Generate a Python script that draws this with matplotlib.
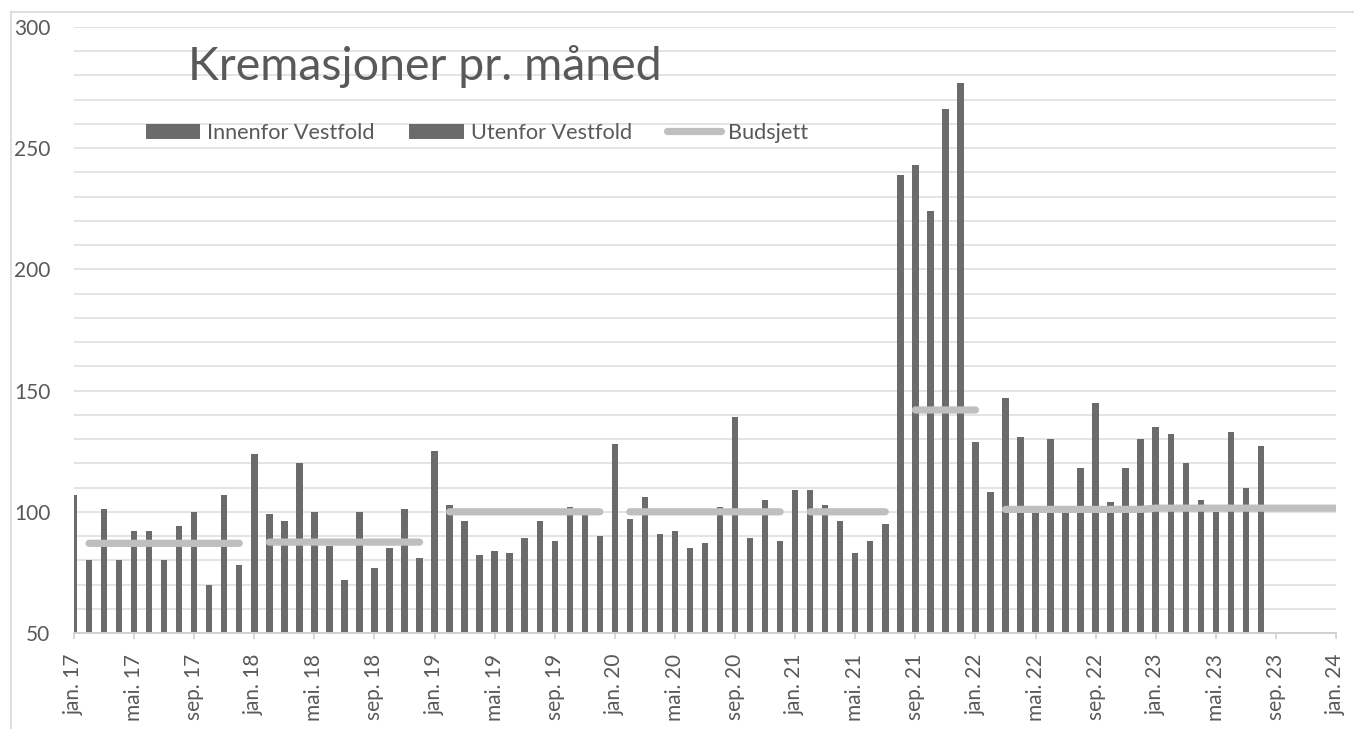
import matplotlib
matplotlib.use("Agg")
import matplotlib.pyplot as plt
from matplotlib.lines import Line2D
from matplotlib.patches import Patch
import numpy as np

plt.rcParams['font.family'] = ['Lato', 'DejaVu Sans']

# ---- data -------------------------------------------------------------
# monthly totals, jan. 17 .. aug. 23
cremations = [
    107, 80, 101, 80, 92, 92, 80, 94, 100, 70, 107, 78,      # 2017
    124, 99, 96, 120, 100, 86, 72, 100, 77, 85, 101, 81,     # 2018
    125, 103, 96, 82, 84, 83, 89, 96, 88, 102, 100, 90,      # 2019
    128, 97, 106, 91, 92, 85, 87, 102, 139, 89, 105, 88,     # 2020
    109, 109, 103, 96, 83, 88, 95, 239, 243, 224, 266, 277,  # 2021
    129, 108, 147, 131, 100, 130, 101, 118, 145, 104, 118, 130,  # 2022
    135, 132, 120, 105, 100, 133, 110, 127,                  # 2023
]
N = None
# budget per month, jan. 17 .. jan. 24 (None = no value)
budget = [
    N, 87, 87, 87, 87, 87, 87, 87, 87, 87, 87, 87,                      # 2017
    N, 87.5, 87.5, 87.5, 87.5, 87.5, 87.5, 87.5, 87.5, 87.5, 87.5, 87.5,  # 2018
    N, 100, 100, 100, 100, 100, 100, 100, 100, 100, 100, 100,           # 2019
    N, 100, 100, 100, 100, 100, 100, 100, 100, 100, 100, 100,           # 2020
    N, 100, 100, 100, 100, 100, 100, N, 142, 142, 142, 142,             # 2021
    142, N, 101, 101, 101, 101, 101, 101, 101, 101, 101, 101,           # 2022
    101.5, 101.5, 101.5, 101.5, 101.5, 101.5, 101.5, 101.5, 101.5, 101.5, 101.5, 101.5,  # 2023
    101.5,                                                              # jan. 24
]
tick_labels = ["jan. 17", "mai. 17", "sep. 17", "jan. 18", "mai. 18", "sep. 18",
               "jan. 19", "mai. 19", "sep. 19", "jan. 20", "mai. 20", "sep. 20",
               "jan. 21", "mai. 21", "sep. 21", "jan. 22", "mai. 22", "sep. 22",
               "jan. 23", "mai. 23", "sep. 23", "jan. 24"]
series_names = ["Innenfor Vestfold", "Utenfor Vestfold", "Budsjett"]
title = "Kremasjoner pr. måned"

# ---- style ------------------------------------------------------------
BAR = "#6b6b6b"
BUD = "#bfbfbf"
TXT = "#595959"
GRID = "#e4e4e4"

W, H = 1354, 729
fig = plt.figure(figsize=(W / 100, H / 100), dpi=100)
fig.patch.set_facecolor("white")

x0, x1 = 74, 1336
y_top, y_bot = 27, 633
ax = fig.add_axes([x0 / W, 1 - y_bot / H, (x1 - x0) / W, (y_bot - y_top) / H])

months = np.arange(len(cremations))
ax.bar(months, cremations, width=0.43, color=BAR, zorder=2)

bud = np.array([np.nan if v is None else v for v in budget], dtype=float)
ax.plot(np.arange(len(bud)), bud, color=BUD, lw=5.2, solid_capstyle="round", zorder=3)

ax.set_xlim(0, 84)
ax.set_ylim(50, 300)
ax.set_yticks(np.arange(50, 301, 50))
ax.set_yticks(np.arange(50, 301, 10), minor=True)
ax.set_xticks(np.arange(0, 85, 4))
ax.set_xticklabels(tick_labels, rotation=90)
ax.set_xticks(np.arange(0, 85, 12), minor=True)

ax.grid(True, axis="y", which="both", color=GRID, lw=1.4, zorder=0)
ax.grid(True, axis="x", which="minor", color=GRID, lw=1.4, zorder=0)
ax.grid(False, axis="x", which="major")
ax.set_axisbelow(True)

for s in ["top", "right", "left"]:
    ax.spines[s].set_visible(False)
ax.spines["bottom"].set_color("#d0d0d0")
ax.spines["bottom"].set_linewidth(1.4)

ax.tick_params(axis="y", which="both", length=0, pad=17, labelsize=15, labelcolor=TXT)
ax.tick_params(axis="x", which="major", length=4, width=1.2, color="#d0d0d0",
               pad=11, labelsize=15, labelcolor=TXT)
ax.tick_params(axis="x", which="minor", length=0)

# title
fig.text(188 / W, 1 - 80 / H, title, fontsize=33.5,
         color=TXT, ha="left", va="baseline")

# legend
handles = [Patch(facecolor=BAR, edgecolor="none"),
           Patch(facecolor=BAR, edgecolor="none"),
           Line2D([0], [0], color=BUD, lw=5.2, solid_capstyle="round")]
fig.legend(handles, series_names, loc="center left",
           bbox_to_anchor=(146 / W, 1 - 133 / H), ncol=3, frameon=False,
           fontsize=15.6, labelcolor=TXT, handlelength=2.5, handleheight=0.72,
           handletextpad=0.33, columnspacing=1.6, borderpad=0, borderaxespad=0)

# outer chart border (left and top)
fig.add_artist(Line2D([11 / W, 11 / W], [0, 1 - 12 / H], color="#d9d9d9", lw=1.2))
fig.add_artist(Line2D([11 / W, 1], [1 - 12 / H, 1 - 12 / H], color="#d9d9d9", lw=1.2))

fig.savefig("out.png", dpi=100, facecolor="white")
